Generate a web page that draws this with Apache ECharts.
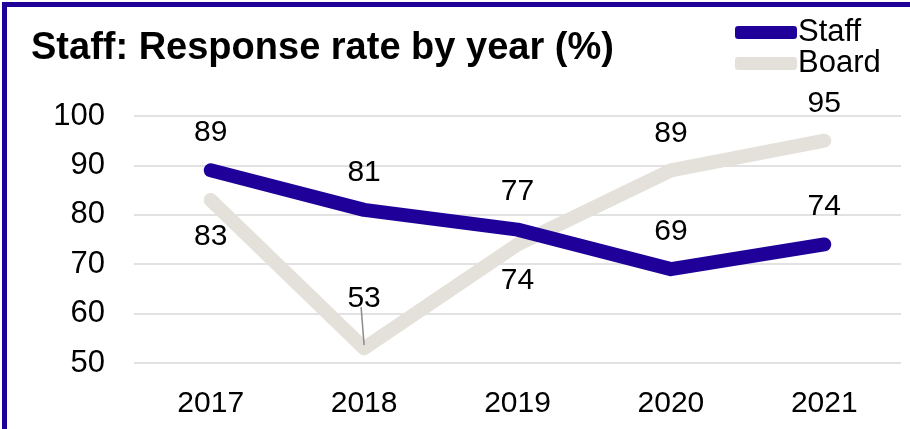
<!DOCTYPE html>
<html><head><meta charset="utf-8">
<script src="https://cdn.jsdelivr.net/npm/echarts@6/dist/echarts.min.js"></script>
<style>
html,body{margin:0;padding:0;background:#fff;}
#c{position:absolute;left:0;top:0;width:910px;height:429px;}
#frame{position:absolute;left:2px;top:2px;width:1000px;height:1000px;border-top:5px solid #1f0099;border-left:5px solid #1f0099;pointer-events:none;}
</style></head>
<body>
<div id="c"></div><div id="frame"></div>
<script>
const years = ['2017','2018','2019','2020','2021'];
const staff = [89, 81, 77, 69, 74];
const board = [83, 53, 74, 89, 95];
const boardLabelPos = ['bottom','top','bottom','top','top'];
const titleText = 'Staff: Response rate by year (%)';

const chart = echarts.init(document.getElementById('c'), null, {renderer:'canvas'});
const font = 'Liberation Sans, Arial, sans-serif';
chart.setOption({
  animation:false,
  title:{text:titleText,left:31,top:30,padding:0,textStyle:{fontFamily:font,fontSize:38,fontWeight:'bold',color:'#000'}},
  legend:{orient:'vertical',left:735,top:17,padding:0,itemWidth:62,itemHeight:13,itemGap:0,icon:'roundRect',
    textStyle:{fontFamily:font,fontSize:31,color:'#000',padding:[0,0,0,-4]},data:['Staff','Board']},
  grid:{left:134,right:9,top:116,bottom:66},
  xAxis:{type:'category',data:years,boundaryGap:true,axisLine:{show:false},axisTick:{show:false},
    axisLabel:{fontFamily:font,fontSize:30,color:'#000',margin:26}},
  yAxis:{type:'value',min:50,max:100,interval:10,axisLine:{show:false},axisTick:{show:false},
    axisLabel:{fontFamily:font,fontSize:31,color:'#000',margin:29}},
  series:[
    {name:'Board',type:'line',data:board.map((v,i)=>{
        const d={value:v,label:{position:boardLabelPos[i]}};
        if(i===1){d.label={position:'top',distance:34};}
        return d;}),
     symbol:'circle',symbolSize:1,showSymbol:true,z:2,
     lineStyle:{color:'#e4e1db',width:14,cap:'round',join:'round'},itemStyle:{color:'#e4e1db'},
     label:{show:true,distance:21,fontFamily:font,fontSize:30,color:'#000'}},
    {name:'Staff',type:'line',data:staff,symbol:'circle',symbolSize:1,showSymbol:true,z:3,
     lineStyle:{color:'#1f0099',width:14,cap:'round',join:'round'},itemStyle:{color:'#1f0099'},
     label:{show:true,position:'top',distance:22,fontFamily:font,fontSize:30,color:'#000'}}
  ]
});
chart.setOption({yAxis:{splitLine:{lineStyle:{color:'#d9d9d9',width:1.5}}}});
// leader line for the 2018 Board label
const p = chart.convertToPixel({xAxisIndex:0,yAxisIndex:0},[years[1],board[1]]);
chart.setOption({graphic:[{type:'line',shape:{x1:p[0]-3,y1:p[1]-41,x2:p[0],y2:p[1]-3},style:{stroke:'#8c8c8c',lineWidth:1.5},z:10}]});
</script>
</body></html>
